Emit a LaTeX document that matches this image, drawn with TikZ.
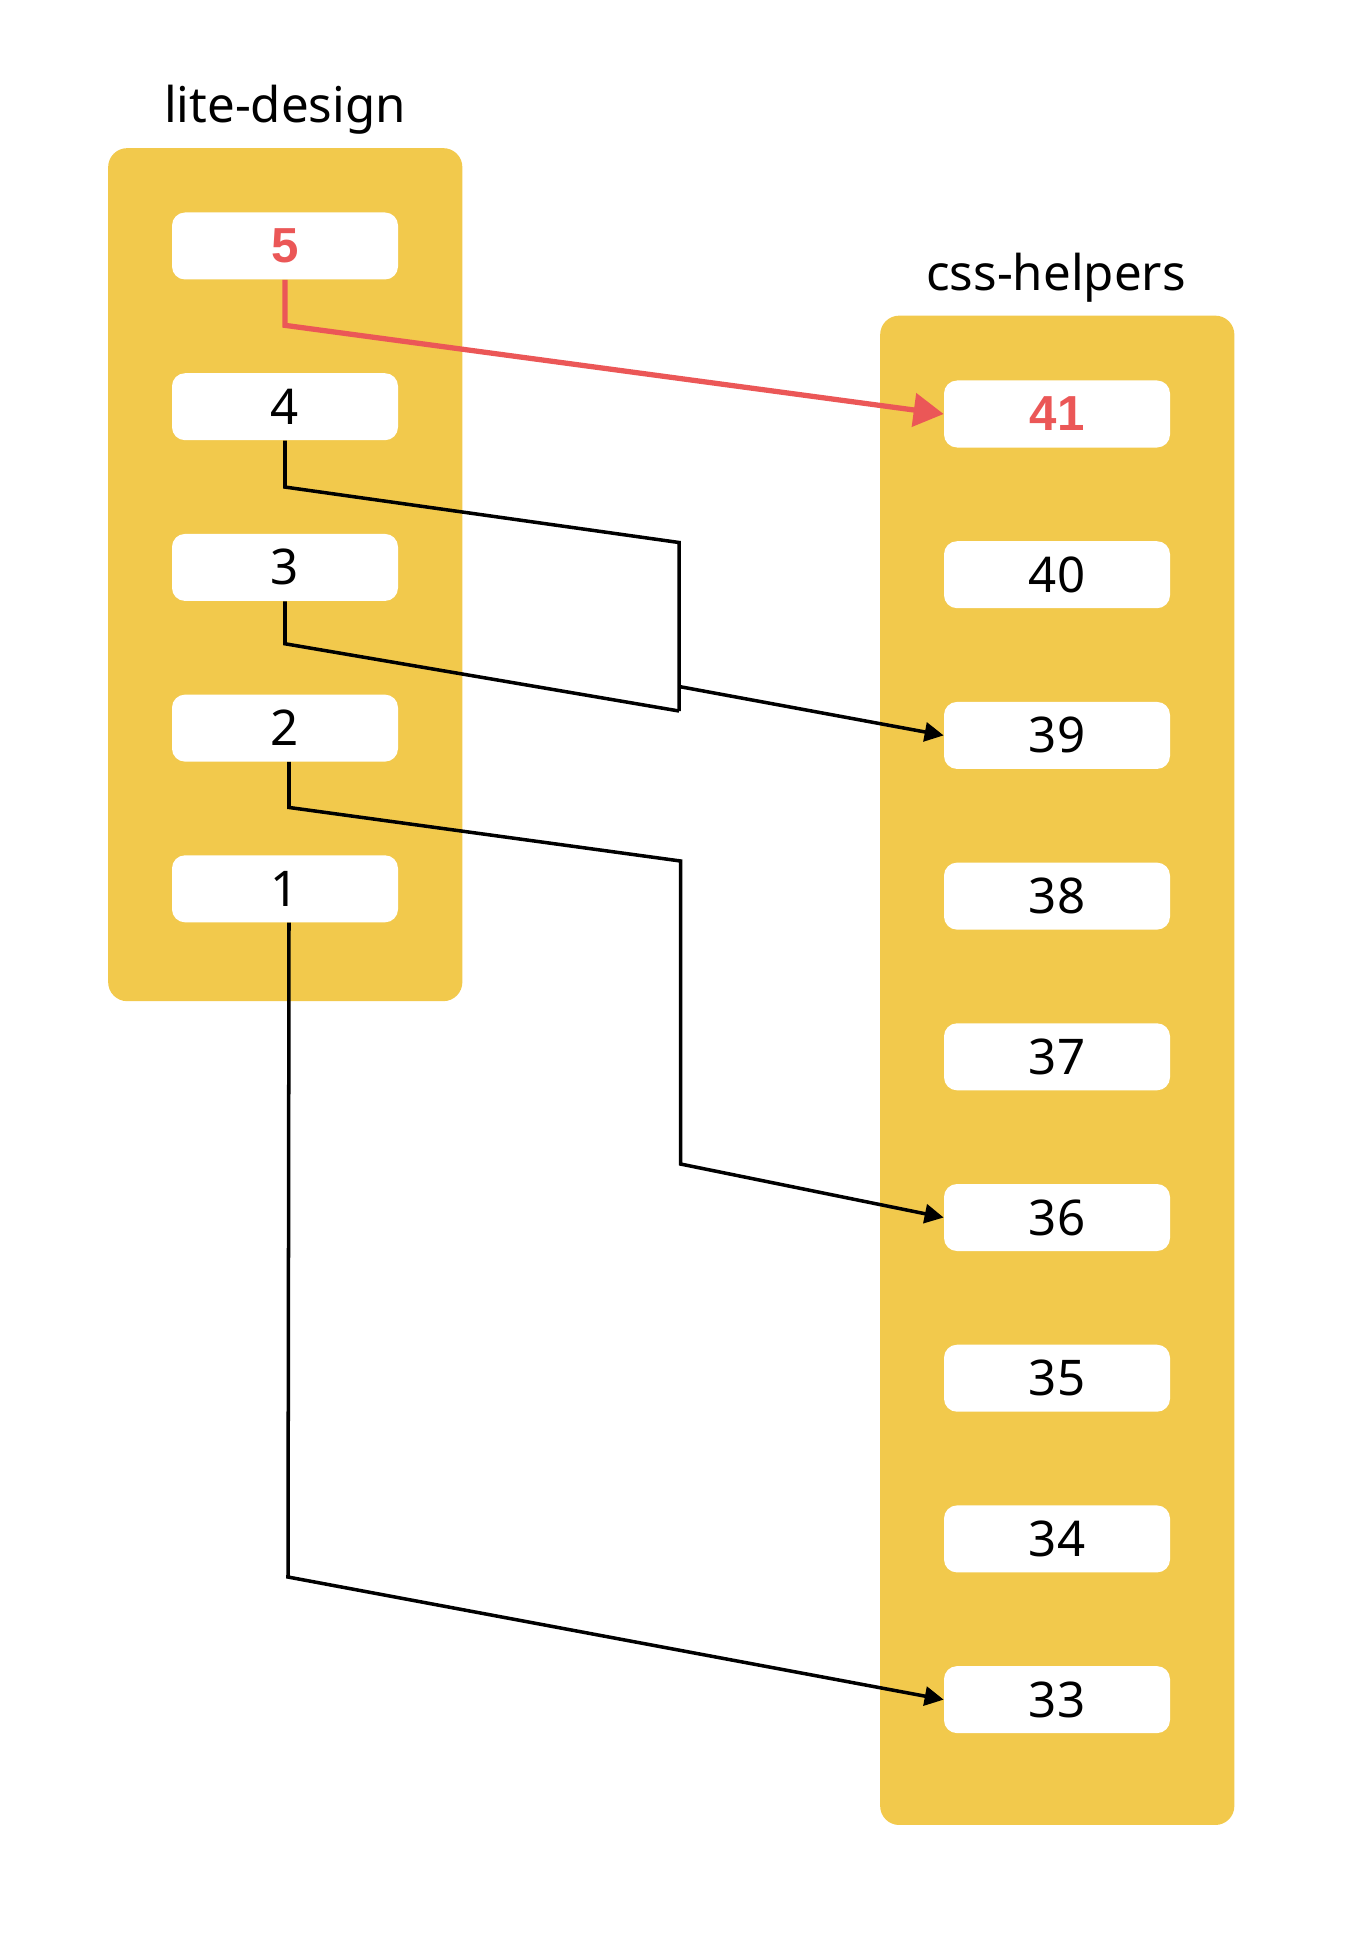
\documentclass[tikz,border=0pt]{standalone}
\usepackage{fontspec}
\setmainfont{Noto Sans}
\newfontfamily\hotfont{Liberation Sans}
\usepackage{xcolor}
\usepackage{tikz}
\usetikzlibrary{arrows.meta,positioning,backgrounds}

\definecolor{panelyellow}{HTML}{F2C94C}
\definecolor{hotred}{HTML}{EB5757}
\newcommand{\boxfont}{\fontsize{28}{34}\selectfont}

\begin{document}
\begin{tikzpicture}[
  item/.style={fill=white, rounded corners=0.26cm, minimum width=4.52cm,
               minimum height=1.34cm, inner sep=0pt, font=\boxfont},
  hot/.style={item, text=hotred, font=\hotfont\boxfont\bfseries},
  panel/.style={fill=panelyellow, rounded corners=0.38cm},
  title/.style={font=\boxfont, inner sep=0pt, anchor=base},
  link/.style={draw=black, line width=2pt},
  arr/.style={link, -{Triangle[length=0.38cm, width=0.38cm]}},
  hotarr/.style={draw=hotred, line width=3pt, -{Triangle[length=0.6cm, width=0.66cm]}},
  node distance=1.86cm
]
  \useasboundingbox (0,0) rectangle (27.12,-38.72);

  % lite-design column
  \node[hot] (n5) at (5.70,-4.92) {5};
  \node[item, below=of n5] (n4) {4};
  \node[item, below=of n4] (n3) {3};
  \node[item, below=of n3] (n2) {2};
  \node[item, below=of n2] (n1) {1};

  % css-helpers column
  \node[hot] (n41) at (21.14,-8.28) {41};
  \node[item, below=of n41] (n40) {40};
  \node[item, below=of n40] (n39) {39};
  \node[item, below=of n39] (n38) {38};
  \node[item, below=of n38] (n37) {37};
  \node[item, below=of n37] (n36) {36};
  \node[item, below=of n36] (n35) {35};
  \node[item, below=of n35] (n34) {34};
  \node[item, below=of n34] (n33) {33};

  % panels behind
  \begin{scope}[on background layer]
    \path[panel] ([shift={(-1.27,1.28)}]n5.north west) rectangle ([shift={(1.28,-1.57)}]n1.south east);
    \path[panel] ([shift={(-1.27,1.29)}]n41.north west) rectangle ([shift={(1.28,-1.83)}]n33.south east);
  \end{scope}

  \node[title] (lite) at (5.70,-2.46) {lite-design};
  \node[title] (css) at (21.12,-5.82) {css-helpers};

  % bend points
  \coordinate (j4top) at (13.58,-10.85);
  \coordinate (j4bot) at (13.58,-14.22);
  \coordinate (j4out) at (13.58,-13.73);
  \coordinate (j2top) at (13.61,-17.22);
  \coordinate (j2bot) at (13.61,-23.28);
  \coordinate (j1bot) at (5.76,-31.54);

  % Arrows
  \draw[hotarr] (n5.south) -- ++(0,-0.91) -- (n41.west);
  \draw[link] (n4.south) -- ++(0,-0.93) -- (j4top) -- (j4bot);
  \draw[link] (n3.south) -- ++(0,-0.85) -- (j4bot);
  \draw[arr] (j4out) -- (n39.west);
  \draw[arr] ([xshift=0.08cm]n2.south) -- ++(0,-0.91) -- (j2top) -- (j2bot) -- (n36.west);
  \draw[arr] ([xshift=0.08cm]n1.south) -- (j1bot) -- (n33.west);
\end{tikzpicture}
\end{document}
